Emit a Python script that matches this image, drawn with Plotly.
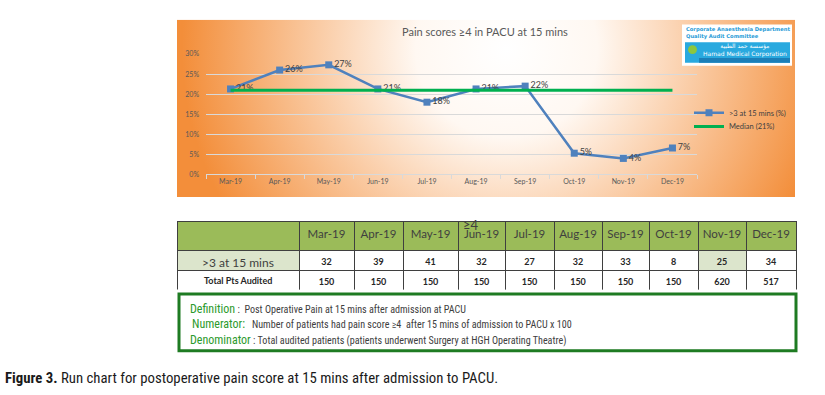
import base64
import plotly.graph_objects as go

W, H = 825, 395

# ---------------- data ----------------
months = ["Mar-19", "Apr-19", "May-19", "Jun-19", "Jul-19", "Aug-19", "Sep-19", "Oct-19", "Nov-19", "Dec-19"]
pain_pct = [21.3, 26.0, 27.3, 21.3, 18.0, 21.3, 22.0, 5.3, 4.0, 6.6]
median_pct = 21
pain_counts = [32, 39, 41, 32, 27, 32, 33, 8, 25, 34]
total_audited = [150, 150, 150, 150, 150, 150, 150, 150, 620, 517]
y_ticks = [0, 5, 10, 15, 20, 25, 30]
y_tick_text = ["0%", "5%", "10%", "15%", "20%", "25%", "30%"]

title_text = "Pain scores \u22654 in PACU at 15 mins"
series_name = ">3 at 15 mins (%)"
median_name = "Median (21%)"
row_labels = [">3 at 15 mins", "Total Pts Audited"]
definition_lines = [
    ("Definition", " :  ", "Post Operative Pain at 15 mins after admission at PACU"),
    ("Numerator:", "   ", "Number of patients had pain score \u22654  after 15 mins of admission to PACU x 100"),
    ("Denominator", " : ", "Total audited patients (patients underwent Surgery at HGH Operating Theatre)"),
]
caption_bold = "Figure 3."
caption_text = " Run chart for postoperative pain score at 15 mins after admission to PACU."


def px_x(p):
    return p / W


def px_y(p):
    return 1 - p / H


NARROW = "Liberation Sans Narrow, Roboto Condensed, Arial Narrow, sans-serif"
CAL = "Lato, Carlito, Calibri, sans-serif"

fig = go.Figure()

# ---------------- line chart ----------------
fig.add_trace(go.Scatter(
    x=months, y=pain_pct, name=series_name, mode="lines+markers+text",
    line=dict(color="#4F81BD", width=2.5),
    marker=dict(symbol="square", size=7, color="#4F81BD"),
    texttemplate="%{y:.0f}%", textposition="middle right",
    textfont=dict(size=9, color="#404040", family=CAL),
    cliponaxis=False, legend="legend",
))
fig.add_trace(go.Scatter(
    x=months, y=[median_pct] * len(months), name=median_name, mode="lines",
    line=dict(color="#00B050", width=3), legend="legend2",
))

# ---------------- table ----------------
fills = []
for i in range(len(months) + 1):
    if i == 0 or months[i - 1] == "Nov-19":
        fills.append(["#DCE5CC", "white"])
    else:
        fills.append(["white", "white"])
cell_vals = [["", ""]] + [[str(c), str(t)] for c, t in zip(pain_counts, total_audited)]

fig.add_trace(go.Table(
    domain=dict(x=[px_x(177), px_x(796)], y=[px_y(291), px_y(221)]),
    columnwidth=[122, 55, 49, 55, 47, 49, 48, 47, 49, 48, 50],
    header=dict(values=[""] + months, fill_color="#9BBB59", height=29,
                line=dict(color="#3F3F3F", width=1), align="center",
                font=dict(size=11.5, color="#3F3F3F", family=CAL)),
    cells=dict(values=cell_vals, fill_color=fills, height=20,
               line=dict(color="#3F3F3F", width=1), align="center",
               font=dict(size=9, color="#262626", family=CAL, weight="bold")),
))

# ---------------- background gradient (chart box) ----------------
bw, bh = 619, 182
svg = (f'<svg xmlns="http://www.w3.org/2000/svg" width="{bw}" height="{bh}">'
       '<defs><radialGradient id="g" gradientUnits="userSpaceOnUse" cx="330" cy="30" r="325">'
       '<stop offset="0" stop-color="#FFFFFF"/><stop offset="0.28" stop-color="#FFF8F2"/>'
       '<stop offset="1" stop-color="#F38E3A"/></radialGradient></defs>'
       f'<rect width="{bw}" height="{bh}" fill="url(#g)"/></svg>')
src = "data:image/svg+xml;base64," + base64.b64encode(svg.encode()).decode()

shapes = [
    # logo box
    dict(type="rect", xref="paper", yref="paper", x0=px_x(682), x1=px_x(792), y0=px_y(62), y1=px_y(20),
         fillcolor="white", line=dict(width=0)),
    dict(type="rect", xref="paper", yref="paper", x0=px_x(685), x1=px_x(790), y0=px_y(59), y1=px_y(38),
         fillcolor="#29A9DF", line=dict(width=0)),
    dict(type="rect", xref="paper", yref="paper", x0=px_x(699), x1=px_x(790), y0=px_y(59), y1=px_y(54),
         fillcolor="#1C7FB8", line=dict(width=0)),
    dict(type="circle", xref="paper", yref="paper", x0=px_x(688), x1=px_x(697), y0=px_y(50), y1=px_y(41),
         fillcolor="#8DC63F", line=dict(width=0)),
    # definition box
    dict(type="rect", xref="paper", yref="paper", x0=px_x(179), x1=px_x(796), y0=px_y(353), y1=px_y(295),
         fillcolor="white", line=dict(color="#1E7B22", width=3)),
]

annotations = [
    dict(text=title_text, xref="paper", yref="paper", x=px_x(485), y=px_y(27), showarrow=False,
         font=dict(size=11, color="#595959", family=CAL), xanchor="center", yanchor="middle"),
    dict(text="\u22654", xref="paper", yref="paper", x=px_x(471), y=px_y(225), showarrow=False,
         font=dict(size=13, color="#3F3F3F", family=CAL), xanchor="center", yanchor="middle"),
    # row labels of the table
    dict(text=row_labels[0], xref="paper", yref="paper", x=px_x(238), y=px_y(263), showarrow=False,
         font=dict(size=12, color="#3F3F3F", family=CAL), xanchor="center", yanchor="middle"),
    dict(text="<b>" + row_labels[1] + "</b>", xref="paper", yref="paper", x=px_x(238), y=px_y(281),
         showarrow=False, font=dict(size=9, color="#262626", family=CAL), xanchor="center", yanchor="middle"),
    dict(text="<b>Corporate Anaesthesia Department<br>Quality Audit Committee</b>", xref="paper", yref="paper",
         x=px_x(684), y=px_y(29), showarrow=False, align="left",
         font=dict(size=5.2, color="#1F9BD7", family="DejaVu Sans"), xanchor="left", yanchor="middle"),
    dict(text="\u0645\u0624\u0633\u0633\u0629 \u062d\u0645\u062f \u0627\u0644\u0637\u0628\u064a\u0629<br>Hamad Medical Corporation",
         xref="paper", yref="paper", x=px_x(745), y=px_y(46), showarrow=False, align="center",
         font=dict(size=6, color="white", family="DejaVu Sans"), xanchor="center", yanchor="middle"),
    dict(text="<b>" + caption_bold + "</b>" + caption_text, xref="paper", yref="paper",
         x=px_x(3), y=px_y(381), showarrow=False, align="left",
         font=dict(size=14.8, color="#1A1A1A", family=NARROW), xanchor="left", yanchor="middle"),
]
for (lab, sep, body), yy, xx in zip(definition_lines, [310, 326, 342], [188, 190, 188]):
    annotations.append(dict(
        text=f"<span style='color:#2C9A2C;font-size:12px'>{lab}</span><span style='color:#404040'>{sep}{body}</span>",
        xref="paper", yref="paper", x=px_x(xx), y=px_y(yy), showarrow=False, align="left",
        font=dict(size=10.1, color="#404040", family=NARROW), xanchor="left", yanchor="middle"))

legend_common = dict(xanchor="left", yanchor="middle", bgcolor="rgba(0,0,0,0)",
                     font=dict(size=7.5, color="#404040", family=CAL), itemwidth=30)

fig.update_layout(
    width=W, height=H, margin=dict(l=0, r=0, t=0, b=0),
    paper_bgcolor="white", plot_bgcolor="rgba(0,0,0,0)",
    images=[dict(source=src, xref="paper", yref="paper", x=px_x(177), y=px_y(15),
                 sizex=(795 - 177) / W, sizey=(196 - 15) / H, sizing="stretch", layer="below",
                 xanchor="left", yanchor="top")],
    shapes=shapes, annotations=annotations,
    showlegend=True,
    legend=dict(x=px_x(689), y=px_y(110), **legend_common),
    legend2=dict(x=px_x(689), y=px_y(124), **legend_common),
    xaxis=dict(domain=[px_x(206), px_x(697)], type="category", range=[-0.5, len(months) - 0.5],
               showgrid=False, showline=True, linecolor="#D9D9D9", linewidth=1,
               ticks="outside", tickson="boundaries", ticklen=4, tickcolor="#D9D9D9",
               tickfont=dict(size=7, color="#595959", family=CAL), fixedrange=True),
    yaxis=dict(domain=[px_y(173), px_y(50)], range=[0, 30], tickvals=y_ticks, ticktext=y_tick_text,
               showgrid=True, gridcolor="#D9D9D9", gridwidth=1, zeroline=False, showline=False,
               ticklabelstandoff=6,
               tickfont=dict(size=7, color="#595959", family=CAL), ticks="", fixedrange=True),
)

fig.write_html("out.html", config={"displayModeBar": False},
               post_script="document.body.style.margin='0px';")
